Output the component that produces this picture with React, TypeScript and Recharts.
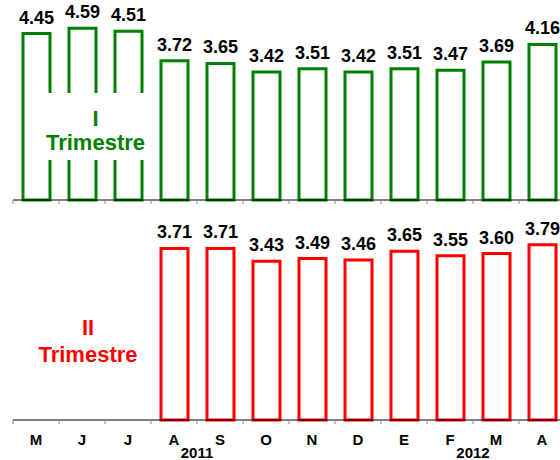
import React from "react";
import { BarChart, Bar, XAxis, YAxis, LabelList } from "recharts";

// months, May 2011 – April 2012
const months = ["M", "J", "J", "A", "S", "O", "N", "D", "E", "F", "M", "A"];
const trimestre1 = [4.45, 4.59, 4.51, 3.72, 3.65, 3.42, 3.51, 3.42, 3.51, 3.47, 3.69, 4.16];
const trimestre2 = [null, null, null, 3.71, 3.71, 3.43, 3.49, 3.46, 3.65, 3.55, 3.6, 3.79];
const yearLabels = ["2011", "2012"];
const yearAfterIndex = [3, 9];

const data = months.map((m, i) => ({
  key: i,
  month: m,
  t1: trimestre1[i],
  t2: trimestre2[i],
}));

const FONT = "'Liberation Sans', Arial, sans-serif";
const CHART_W = 565;
const LEFT = 13;
const BAND = (CHART_W - LEFT) / months.length;
const GREEN = "#008000";
const RED = "#ff0000";

function MonthTick(props: any) {
  const { x, y, index, showLabel } = props;
  const left = x - BAND / 2;
  const yi = yearAfterIndex.indexOf(index);
  return (
    <g>
      <line x1={left} x2={left} y1={y} y2={y + 4} stroke="#888" strokeWidth={1} />
      {showLabel && (
        <text
          x={x}
          y={y + 25}
          textAnchor="middle"
          fontFamily={FONT}
          fontWeight="bold"
          fontSize={15}
          fill="#000"
        >
          {months[index]}
        </text>
      )}
      {showLabel && yi >= 0 && (
        <text
          x={x + BAND / 2}
          y={y + 38}
          textAnchor="middle"
          fontFamily={FONT}
          fontWeight="bold"
          fontSize={15}
          fill="#000"
        >
          {yearLabels[yi]}
        </text>
      )}
    </g>
  );
}

function ValueLabel(props: any) {
  const { x, y, width, value } = props;
  if (value == null) return null;
  return (
    <text
      x={x + width / 2}
      y={y - 10}
      textAnchor="middle"
      fontFamily={FONT}
      fontWeight="bold"
      fontSize={18}
      fill="#000"
    >
      {Number(value).toFixed(2)}
    </text>
  );
}

const trimText: React.CSSProperties = {
  fontFamily: FONT,
  fontWeight: "bold",
  fontSize: 22,
  textAlign: "center",
  position: "absolute",
  width: "100%",
  left: 0,
};

export default function App() {
  return (
    <div
      style={{
        position: "fixed",
        left: 0,
        top: 0,
        width: 560,
        height: 460,
        overflow: "hidden",
        background: "#fff",
      }}
    >
      {/* first panel */}
      <div style={{ position: "absolute", left: 0, top: 0 }}>
        <BarChart
          width={CHART_W}
          height={210}
          data={data}
          margin={{ top: 13, right: 0, left: LEFT, bottom: 0 }}
        >
          <XAxis
            dataKey="key"
            height={10}
            tickSize={0}
            tickMargin={0}
            tickLine={false}
            axisLine={{ stroke: "#000", strokeWidth: 1 }}
            interval={0}
            tick={<MonthTick showLabel={false} />}
          />
          <YAxis hide domain={[0, 5]} />
          <Bar
            dataKey="t1"
            barSize={27}
            fill="#fff"
            stroke={GREEN}
            strokeWidth={3}
            isAnimationActive={false}
          >
            <LabelList dataKey="t1" content={<ValueLabel />} />
          </Bar>
        </BarChart>
      </div>

      {/* second panel */}
      <div style={{ position: "absolute", left: 0, top: 210 }}>
        <BarChart
          width={CHART_W}
          height={250}
          data={data}
          margin={{ top: 25, right: 0, left: LEFT, bottom: 0 }}
        >
          <XAxis
            dataKey="key"
            height={40}
            tickSize={0}
            tickMargin={0}
            tickLine={false}
            axisLine={{ stroke: "#000", strokeWidth: 1 }}
            interval={0}
            tick={<MonthTick showLabel />}
          />
          <YAxis hide domain={[0, 4]} />
          <Bar
            dataKey="t2"
            barSize={27}
            fill="#fff"
            stroke={RED}
            strokeWidth={3}
            isAnimationActive={false}
          >
            <LabelList dataKey="t2" content={<ValueLabel />} />
          </Bar>
        </BarChart>
      </div>

      {/* panel captions */}
      <div
        style={{
          position: "absolute",
          left: 44,
          top: 93,
          width: 103,
          height: 67,
          background: "#fff",
          color: GREEN,
        }}
      >
        <div style={{ ...trimText, top: 14, lineHeight: "23px" }}>I</div>
        <div style={{ ...trimText, top: 38, lineHeight: "23px" }}>Trimestre</div>
      </div>
      <div
        style={{
          position: "absolute",
          left: 38,
          top: 300,
          width: 100,
          height: 70,
          color: RED,
        }}
      >
        <div style={{ ...trimText, top: 16, lineHeight: "23px" }}>II</div>
        <div style={{ ...trimText, top: 43, lineHeight: "23px" }}>Trimestre</div>
      </div>
    </div>
  );
}
